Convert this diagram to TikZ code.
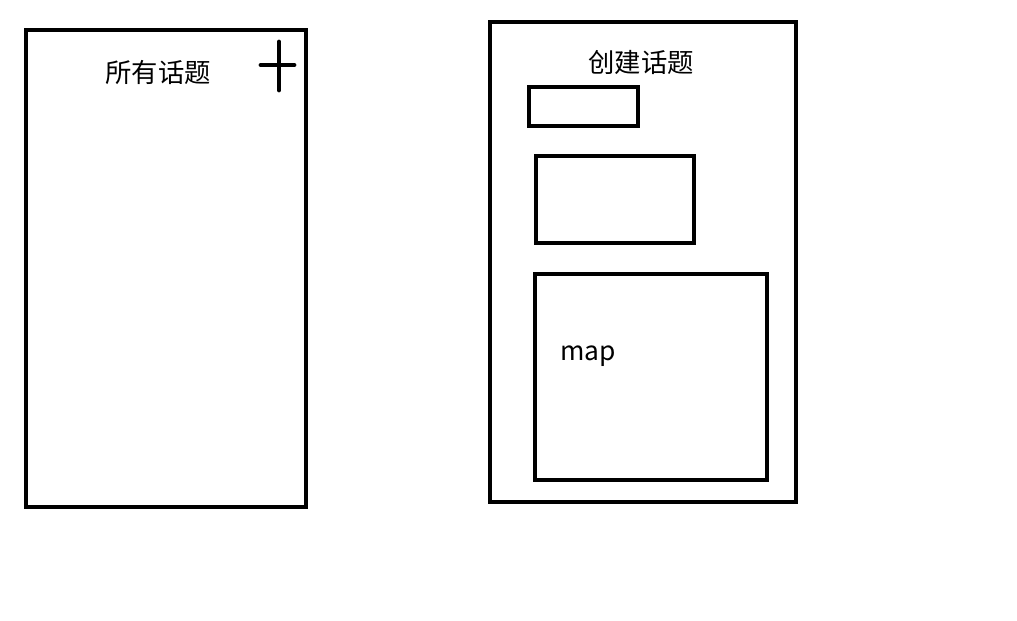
\documentclass[tikz,border=0pt]{standalone}
\usepackage{fontspec}
\setmainfont{Noto Sans CJK SC}
\tikzset{
    frame/.style={line width=2.4pt},
    label/.style={font=\fontsize{15}{18}\selectfont, inner sep=0pt}
}
\begin{document}
\begin{tikzpicture}[x=0.02cm,y=-0.02cm]
    \useasboundingbox (0,0) rectangle (1017,621);

    \begin{scope}
        % All topics screen
        \draw[frame] (26,30) rectangle (306,507);
        \node[label] (alltopics) at (158,73) {所有话题};

        % Add button
        \draw[frame,line width=2.8pt,line cap=round] (279,42) -- (279,90);
        \draw[frame,line width=2.8pt,line cap=round] (261,65) -- (294,65);
    \end{scope}

    \begin{scope}
        % Create topic screen
        \draw[frame] (490,22) rectangle (796,502);
        \node[label] (newtopic) at (641,62) {创建话题};

        % Input fields
        \draw[frame] (529,87) rectangle (638,126);
        \draw[frame] (536,156) rectangle (694,243);

        % Map area
        \draw[frame] (535,274) rectangle (767,480);
        \node[label,anchor=base west] (map) at (560,360) {map};
    \end{scope}
\end{tikzpicture}
\end{document}
